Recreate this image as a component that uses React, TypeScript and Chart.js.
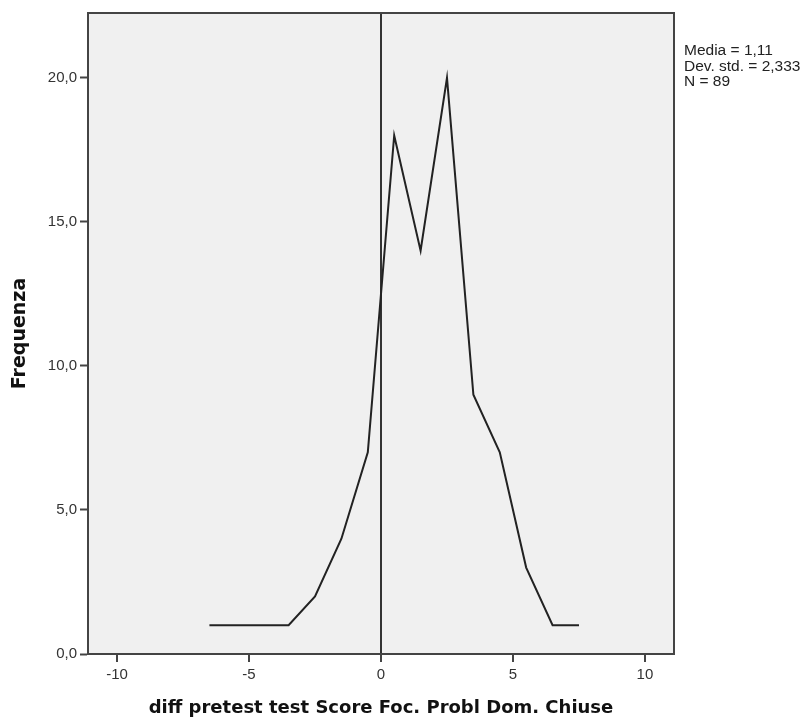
import React, { useEffect, useRef } from "react";
import { Chart, registerables } from "chart.js";

Chart.register(...registerables);

const binCenters = [-6.5, -5.5, -4.5, -3.5, -2.5, -1.5, -0.5, 0.5, 1.5, 2.5, 3.5, 4.5, 5.5, 6.5, 7.5];
const frequencies = [1, 1, 1, 1, 2, 4, 7, 18, 14, 20, 9, 7, 3, 1, 1];
const xTickValues = [-10, -5, 0, 5, 10];
const yTickValues = [0, 5, 10, 15, 20];
const statsLines = ["Media = 1,11", "Dev. std. = 2,333", "N = 89"];
const xTitle = "diff pretest test Score Foc. Probl Dom. Chiuse";
const yTitle = "Frequenza";

const FONT = "'Liberation Sans', Arial, sans-serif";
const TITLE_FONT = "'DejaVu Sans', 'Liberation Sans', sans-serif";

export default function App() {
  const ref = useRef<HTMLCanvasElement | null>(null);

  useEffect(() => {
    const canvas = ref.current;
    if (!canvas) return;

    const framePlugin = {
      id: "frame",
      beforeDraw(chart: any) {
        const { ctx, chartArea } = chart;
        ctx.save();
        ctx.fillStyle = "#f0f0f0";
        ctx.fillRect(chartArea.left, chartArea.top, chartArea.right - chartArea.left, chartArea.bottom - chartArea.top);
        ctx.restore();
      },
      afterDraw(chart: any) {
        const { ctx, chartArea } = chart;
        ctx.save();
        ctx.strokeStyle = "#444";
        ctx.lineWidth = 2;
        ctx.strokeRect(chartArea.left, chartArea.top, chartArea.right - chartArea.left, chartArea.bottom - chartArea.top);
        ctx.fillStyle = "#222";
        ctx.font = "15.5px " + FONT;
        ctx.textBaseline = "middle";
        ctx.textAlign = "left";
        statsLines.forEach((t, i) => {
          ctx.fillText(t, chartArea.right + 10, 51 + i * 15.5);
        });
        ctx.restore();
      },
    };

    const chart = new Chart(canvas, {
      type: "line",
      data: {
        datasets: [
          {
            data: binCenters.map((x, i) => ({ x, y: frequencies[i] })),
            borderColor: "#222",
            borderWidth: 2,
            pointRadius: 0,
            tension: 0,
            fill: false,
          },
        ],
      },
      options: {
        animation: false,
        responsive: false,
        maintainAspectRatio: false,
        layout: { padding: { left: 0, right: 133, top: 13, bottom: 0 } },
        plugins: { legend: { display: false }, tooltip: { enabled: false } },
        scales: {
          x: {
            type: "linear",
            min: -11.1,
            max: 11.1,
            afterBuildTicks: (s: any) => {
              s.ticks = xTickValues.map((v) => ({ value: v }));
            },
            afterFit: (s: any) => {
              s.height = 66;
            },
            border: { display: true, color: "#444", width: 2 },
            grid: {
              drawOnChartArea: true,
              drawTicks: true,
              tickLength: 8,
              lineWidth: 2,
              color: (c: any) => (c.tick && c.tick.value === 0 ? "#333" : "rgba(0,0,0,0)"),
              tickColor: "#444",
              tickWidth: 2,
            },
            ticks: {
              padding: 4,
              color: "#333",
              font: { family: FONT, size: 15 },
              callback: (v: any) => String(v),
              maxRotation: 0,
            },
            title: {
              display: true,
              text: xTitle,
              color: "#111",
              font: { family: TITLE_FONT, size: 18, weight: "bold" },
              padding: { top: 0, bottom: 1 },
            },
          },
          y: {
            type: "linear",
            min: 0,
            max: 22.25,
            afterBuildTicks: (s: any) => {
              s.ticks = yTickValues.map((v) => ({ value: v }));
            },
            afterFit: (s: any) => {
              s.width = 88;
            },
            border: { display: true, color: "#444", width: 2 },
            grid: {
              drawOnChartArea: false,
              drawTicks: true,
              tickLength: 8,
              tickColor: "#444",
              tickWidth: 2,
            },
            ticks: {
              padding: 3,
              color: "#333",
              font: { family: FONT, size: 15 },
              callback: (v: any) => Number(v).toFixed(1).replace(".", ","),
            },
            title: {
              display: true,
              text: yTitle,
              color: "#111",
              font: { family: TITLE_FONT, size: 19, weight: "bold" },
              padding: { top: 9, bottom: 0 },
            },
          },
        },
      },
      plugins: [framePlugin],
    });

    return () => chart.destroy();
  }, []);

  return (
    <div style={{ position: "fixed", left: 0, top: 0, width: 807, height: 720, background: "#fff" }}>
      <canvas ref={ref} width={807} height={720} style={{ width: 807, height: 720, display: "block" }} />
    </div>
  );
}
